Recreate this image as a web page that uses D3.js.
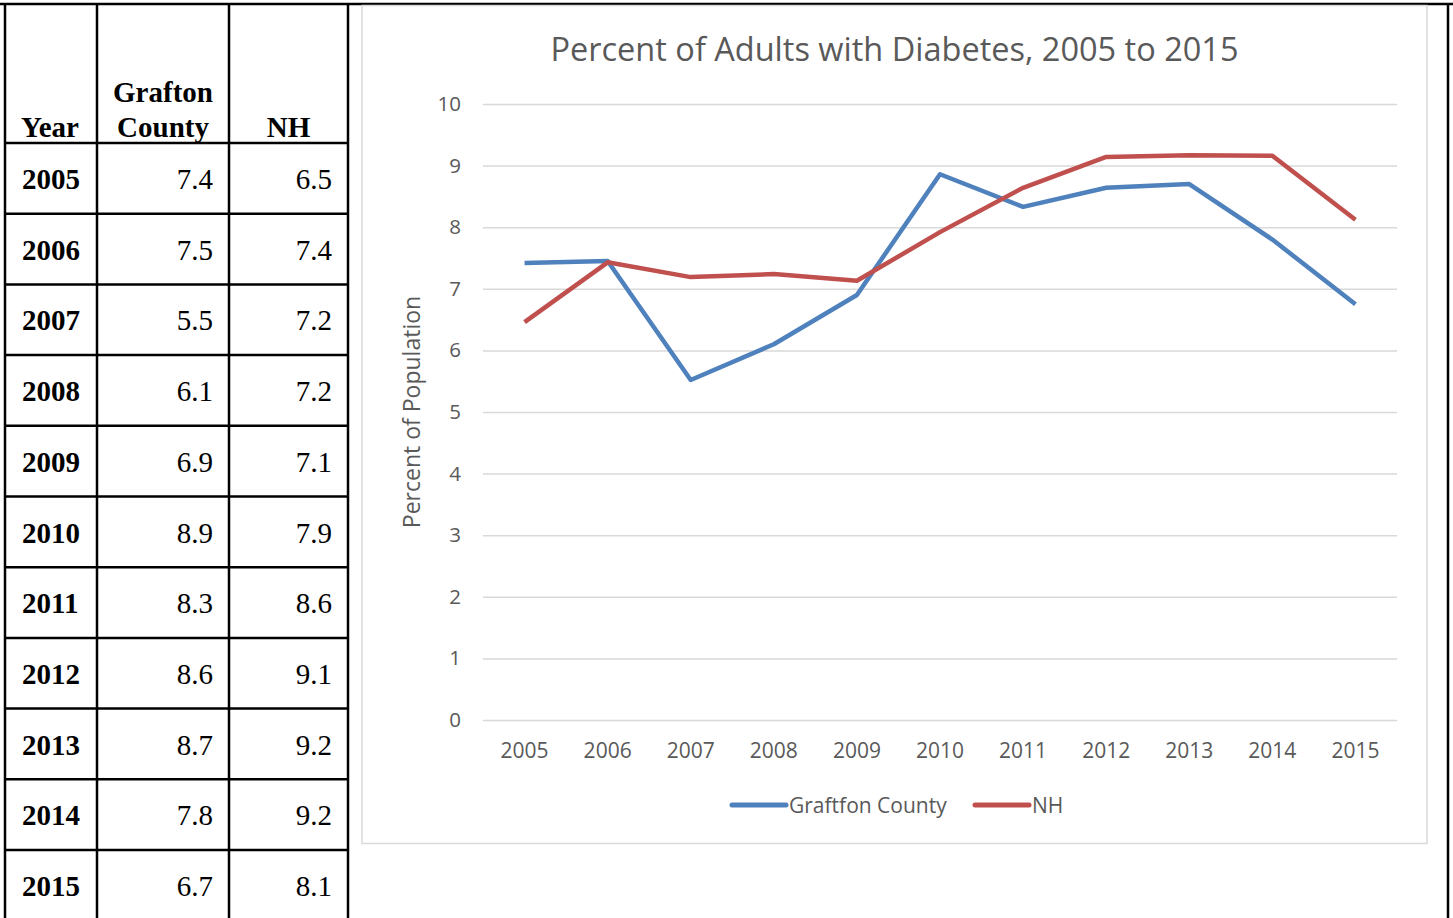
<!DOCTYPE html>
<html>
<head>
<meta charset="utf-8">
<script src="https://cdn.jsdelivr.net/npm/d3@7"></script>
<style>
  body { margin: 0; background: #fff; }
  svg { display: block; }
  .cell-text { font-family: "Liberation Serif", "Times New Roman", serif; font-size: 29px; fill: #000; }
  .chart-text { font-family: "Open Sans", "Noto Sans", sans-serif; fill: #595959; }
</style>
</head>
<body>
<svg id="chart" width="1453" height="918"></svg>
<script>
// data
const years = [2005, 2006, 2007, 2008, 2009, 2010, 2011, 2012, 2013, 2014, 2015];
const graftonTable = ["7.4", "7.5", "5.5", "6.1", "6.9", "8.9", "8.3", "8.6", "8.7", "7.8", "6.7"];
const nhTable = ["6.5", "7.4", "7.2", "7.2", "7.1", "7.9", "8.6", "9.1", "9.2", "9.2", "8.1"];
// values as plotted in the chart
const graftonPct = [7.42, 7.45, 5.52, 6.1, 6.9, 8.86, 8.33, 8.64, 8.7, 7.8, 6.75];
const nhPct = [6.46, 7.43, 7.19, 7.24, 7.13, 7.92, 8.64, 9.14, 9.17, 9.16, 8.12];
const yTicks = [0, 1, 2, 3, 4, 5, 6, 7, 8, 9, 10];
const seriesNames = ["Graftfon County", "NH"];
const seriesColors = ["#4f81bd", "#c0504d"];

const svg = d3.select("#chart");

// ---- table on the left ----
const colEdges = [5, 97, 229, 348];
const headerTop = 4, headerBottom = 143, rowH = 70.7;
const rowY = d3.scaleBand()
  .domain(years)
  .range([headerBottom, headerBottom + years.length * rowH]);

const tbl = svg.append("g");
const colMid = i => (colEdges[i] + colEdges[i + 1]) / 2;

// header text (bottom aligned, bold)
tbl.append("text").attr("class", "cell-text").attr("font-weight", "bold")
  .attr("x", colEdges[0] + 16).attr("y", 137).text("Year");
const gh = tbl.append("text").attr("class", "cell-text").attr("font-weight", "bold")
  .attr("text-anchor", "middle")
  .attr("x", colMid(1)).attr("y", 102);
gh.append("tspan").text("Grafton");
gh.append("tspan").attr("x", colMid(1)).attr("dy", 35).text("County");
tbl.append("text").attr("class", "cell-text").attr("font-weight", "bold")
  .attr("x", colMid(2)).attr("y", 137).attr("text-anchor", "middle").text("NH");

const rows = tbl.selectAll("g.row")
  .data(years.map((y, i) => ({ year: y, g: graftonTable[i], nh: nhTable[i] })))
  .join("g")
  .attr("class", "row")
  .attr("transform", d => `translate(0,${rowY(d.year)})`);

rows.append("text").attr("class", "cell-text").attr("font-weight", "bold")
  .attr("x", colEdges[0] + 17).attr("y", 46).text(d => d.year);
rows.append("text").attr("class", "cell-text").attr("text-anchor", "end")
  .attr("x", colEdges[2] - 16).attr("y", 46).text(d => d.g);
rows.append("text").attr("class", "cell-text").attr("text-anchor", "end")
  .attr("x", colEdges[3] - 16).attr("y", 46).text(d => d.nh);

// grid lines of the table
const lineStyle = sel => sel.attr("stroke", "#000").attr("stroke-width", 2.5);
tbl.append("line").attr("x1", 0).attr("x2", 1453).attr("y1", headerTop).attr("y2", headerTop).call(lineStyle);
tbl.selectAll("line.h")
  .data([headerBottom].concat(years.map(y => rowY(y) + rowY.bandwidth())))
  .join("line")
  .attr("class", "h")
  .attr("x1", colEdges[0]).attr("x2", colEdges[3])
  .attr("y1", d => d).attr("y2", d => d)
  .call(lineStyle);
tbl.selectAll("line.v")
  .data(colEdges.concat([1448]))
  .join("line")
  .attr("class", "v")
  .attr("x1", d => d).attr("x2", d => d)
  .attr("y1", headerTop).attr("y2", 918)
  .call(lineStyle);

// ---- chart on the right ----
svg.append("rect")
  .attr("x", 362).attr("y", 5.5).attr("width", 1065).attr("height", 838)
  .attr("fill", "#fff").attr("stroke", "#d9d9d9").attr("stroke-width", 1.5);

const x = d3.scaleBand().domain(years).range([483, 1397]);
const y = d3.scaleLinear().domain([0, 10]).range([720, 104]);
const cx = d => x(d) + x.bandwidth() / 2;

const chart = svg.append("g");

chart.append("text").attr("class", "chart-text")
  .attr("x", 894.5).attr("y", 61)
  .attr("text-anchor", "middle")
  .attr("font-size", 32.5)
  .text("Percent of Adults with Diabetes, 2005 to 2015");

// y axis: gridlines + labels
const yAxis = chart.append("g")
  .attr("transform", `translate(${x.range()[0]},0)`)
  .call(d3.axisLeft(y).tickValues(yTicks).tickSize(-(x.range()[1] - x.range()[0])).tickPadding(22));
yAxis.select(".domain").remove();
yAxis.selectAll(".tick line").attr("stroke", "#d9d9d9").attr("stroke-width", 1.5);
yAxis.selectAll(".tick text").attr("class", "chart-text").attr("font-size", 20.5).attr("fill", "#595959");

// x axis labels
const xAxis = chart.append("g")
  .attr("transform", `translate(0,${y(0)})`)
  .call(d3.axisBottom(x).tickSize(0).tickPadding(23));
xAxis.select(".domain").remove();
xAxis.selectAll(".tick text").attr("class", "chart-text").attr("font-size", 21).attr("fill", "#595959");

chart.append("text").attr("class", "chart-text")
  .attr("transform", `translate(420,${(y(0) + y(10)) / 2}) rotate(-90)`)
  .attr("text-anchor", "middle")
  .attr("font-size", 23)
  .text("Percent of Population");

// lines
const lineGen = d3.line().x((d, i) => cx(years[i])).y(d => y(d));
[graftonPct, nhPct].forEach((vals, i) => {
  chart.append("path")
    .datum(vals)
    .attr("d", lineGen)
    .attr("fill", "none")
    .attr("stroke", seriesColors[i])
    .attr("stroke-width", 4.5)
    .attr("stroke-linejoin", "round");
});

// legend
const legendX = [732, 975];
const legend = chart.selectAll("g.legend")
  .data(seriesNames)
  .join("g")
  .attr("class", "legend")
  .attr("transform", (d, i) => `translate(${legendX[i]},805)`);
legend.append("line")
  .attr("x1", 0).attr("x2", 54).attr("y1", 0).attr("y2", 0)
  .attr("stroke", (d, i) => seriesColors[i])
  .attr("stroke-width", 5)
  .attr("stroke-linecap", "round");
legend.append("text").attr("class", "chart-text")
  .attr("x", 57).attr("y", 7.5)
  .attr("font-size", 21)
  .text(d => d);
</script>
</body>
</html>
